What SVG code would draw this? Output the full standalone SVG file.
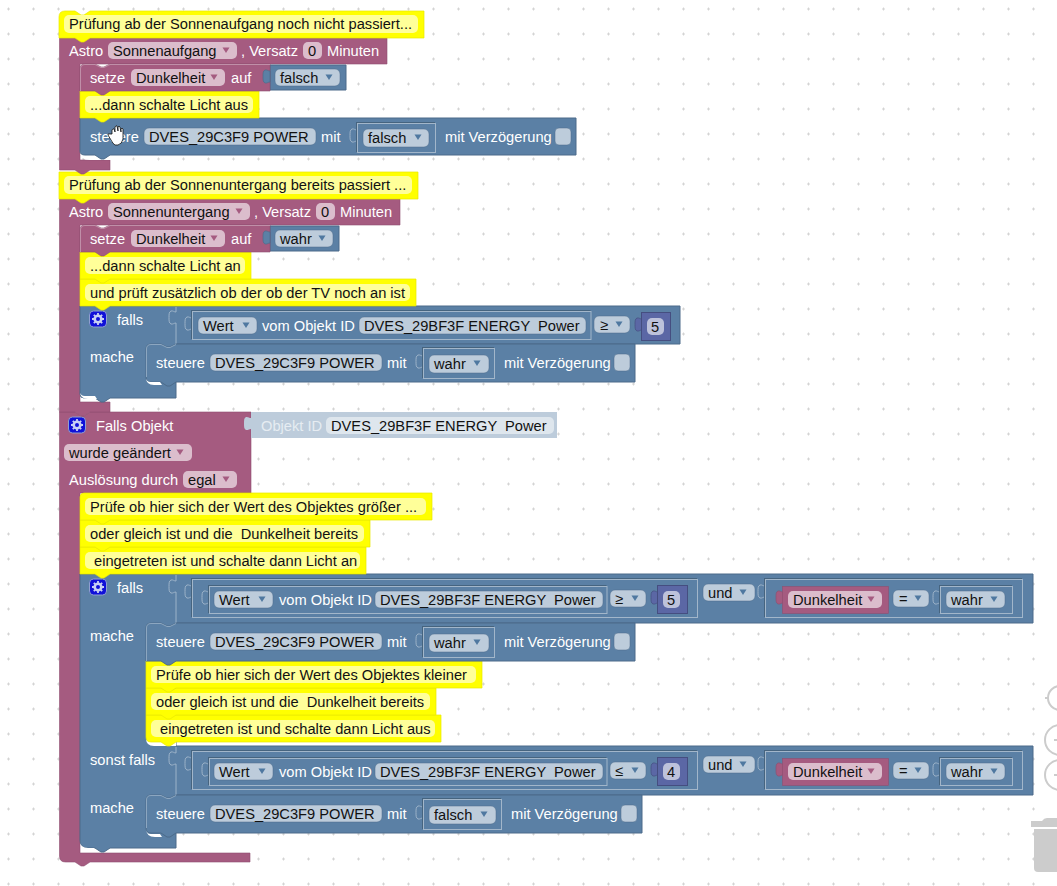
<svg xmlns="http://www.w3.org/2000/svg" width="1057" height="886" viewBox="0 0 1057 886">
<style>
text{font-family:"Liberation Sans",Arial,sans-serif;font-size:14.67px;white-space:pre}
.w{fill:#fff}.k{fill:#111}
.P{fill:#a55b80;stroke:#8f4f70;stroke-width:.6}
.B{fill:#5b80a5;stroke:#4c6b8a;stroke-width:1}
.Y{fill:#ff0;stroke:#e8e800;stroke-width:.7}
.yf{fill:#ffff99}
.pf{fill:#dbbdcc}
.bf{fill:#bdccdb;stroke:#4c6b8a;stroke-width:.5}
.N{fill:#5b67a5;stroke:#454e80;stroke-width:1}
.nf{fill:#bdc2db}
.o{fill:#5b80a5;stroke:#a2b6ca;stroke-width:1;filter:drop-shadow(-1px -1px 0 #46647f)}
.t{fill:none;stroke:#9db3c9;stroke-width:1}
.ad{fill:#4f78a0}.ap{fill:#a55b80}
.g{fill:none;stroke:#ccc;stroke-width:2}
.hb{fill:none;stroke:#8ca6c0;stroke-width:1}
.hp{fill:none;stroke:#c08fa8;stroke-width:1}
.tb{fill:#5b80a5;stroke:#4c6b8a;stroke-width:.7}
.tn{fill:#5b67a5;stroke:#454e80;stroke-width:.7}
.tp{fill:#a55b80;stroke:#8f4f70;stroke-width:.7}
</style>
<defs>
<pattern id="grid" width="25" height="25" patternUnits="userSpaceOnUse"><path d="M7 9h3M8.500 7.500v3" stroke="#d4d4d4" stroke-width="1"/></pattern>
<path id="dd" d="M-3.500 -2.500h7l-3.500 5.500z"/>
<path id="tab" d="M0 0c-2 0-3-1.500-5-1-2 1-2 3-2 6.500s0 5.500 2 6.500c2 .500 3-1 5-1"/>
<path id="pt" d="M0 0c-2 0-3-1.500-5-1-2 1-2 3-2 6.500s0 5.500 2 6.500c2 .500 3-1 5-1z"/>
<g id="gear"><rect x="-8.500" y="-8" width="17" height="16" rx="4" fill="#1010d8" stroke="#8f9fd0" stroke-width="1"/><circle r="3.300" fill="none" stroke="#c8d0f4" stroke-width="2.600"/><path d="M0-6v2M0 4v2M-6 0h2M4 0h2M-4.200-4.200l1.400 1.400M2.800 2.800l1.400 1.400M-4.200 4.200l1.400-1.400M2.800-2.800l1.400-1.400" stroke="#c8d0f4" stroke-width="1.800"/></g>
</defs>
<rect width="1057" height="886" fill="#fff"/>
<rect width="1057" height="886" fill="url(#grid)"/>

<g id="stack3">
<path class="P" d="M59.500 412H75l6 4h3l6-4H251V493H80V853H250V862H90l-6 4h-3l-6-4H65.500q-6 0-6-6Z"/>
<g id="objekt-id"><path d="M251 412H557V438H251Z" fill="#bdccdb"/><use href="#pt" fill="#bdccdb" x="251" y="418"/><text fill="#e6ecf2" x="261" y="431">Objekt ID</text><rect x="326" y="417" width="228" height="17" rx="5" fill="#dee6ed"/><text class="k" x="331" y="431">DVES_29BF3F ENERGY  Power</text></g>
<g id="trigger"><use href="#gear" x="77" y="425"/><text class="w" x="96" y="431">Falls Objekt</text><rect class="pf" x="64" y="444" width="128" height="17" rx="5"/><text class="k" x="69" y="458">wurde geändert</text><use href="#dd" class="ap" x="180" y="452"/><text class="w" x="69" y="485">Auslösung durch</text><rect class="pf" x="183" y="471" width="54" height="17" rx="5"/><text class="k" x="188" y="485">egal</text><use href="#dd" class="ap" x="226" y="479"/></g>

<g id="falls2"><path class="B" d="M80 574H1033V623H176V746H1033V795H176V837V848H110l-6 4h-3l-6-4H88q-8 0-8-8Z"/><path d="M80 841q0 10 10 10h6l-2-3h-6q-8 0-8-7Z" fill="#fff"/>
<use href="#gear" x="98" y="587"/><text class="w" x="117" y="593">falls</text><text class="w" x="90" y="641">mache</text><text class="w" x="90" y="765">sonst falls</text><text class="w" x="90" y="813">mache</text>
<path class="t" d="M176 575V581c-2 0-3-1.500-5-1-2 1-2 3-2 6.500s0 5.500 2 6.500c2 .500 3-1 5-1V623"/><path class="t" d="M176 747V753c-2 0-3-1.500-5-1-2 1-2 3-2 6.500s0 5.500 2 6.500c2 .500 3-1 5-1V795"/>
<g id="cond1"><use href="#tab" class="t" x="192" y="586"/><rect class="o" x="192.500" y="579.500" width="505" height="38"/><use href="#tab" class="t" x="209" y="592"/><rect class="o" x="209.500" y="586.500" width="397.500" height="27"/><rect class="bf" x="214" y="591" width="59" height="17" rx="5"/><text class="k" x="219" y="605">Wert</text><use href="#dd" class="ad" x="262" y="599"/><text class="w" x="279" y="605">vom Objekt ID</text><rect class="bf" x="375" y="591" width="228" height="17" rx="5"/><text class="k" x="380" y="605">DVES_29BF3F ENERGY  Power</text><rect class="bf" x="610" y="590" width="36" height="17" rx="5"/><text class="k" x="615" y="604">≥</text><use href="#dd" class="ad" x="635" y="598"/><use href="#pt" class="tn" x="658" y="592"/><rect class="N" x="657.500" y="585.500" width="30" height="28"/><rect class="nf" x="663" y="591" width="17" height="17" rx="5"/><text class="k" x="667" y="605">5</text>
<rect class="bf" x="703" y="584" width="52" height="17" rx="5"/><text class="k" x="708" y="598">und</text><use href="#dd" class="ad" x="743" y="592"/><use href="#tab" class="t" x="765" y="586"/><rect class="o" x="765.500" y="579.500" width="257" height="38"/><use href="#pt" class="tp" x="783" y="592"/><rect class="P" x="782.500" y="586.500" width="106" height="27"/><rect class="pf" x="788" y="591" width="94" height="17" rx="5"/><text class="k" x="793" y="605">Dunkelheit</text><use href="#dd" class="ap" x="871" y="599"/><rect class="bf" x="893" y="590" width="36" height="17" rx="5"/><text class="k" x="899" y="604">=</text><use href="#dd" class="ad" x="918" y="598"/><use href="#tab" class="t" x="940" y="592"/><rect class="o" x="940.500" y="586.500" width="72" height="27"/><rect class="bf" x="946" y="591" width="59" height="17" rx="5"/><text class="k" x="951" y="605">wahr</text><use href="#dd" class="ad" x="994" y="599"/></g>
<g id="cond2"><use href="#tab" class="t" x="192" y="758"/><rect class="o" x="192.500" y="751.500" width="505" height="38"/><use href="#tab" class="t" x="209" y="764"/><rect class="o" x="209.500" y="758.500" width="397.500" height="27"/><rect class="bf" x="214" y="763" width="59" height="17" rx="5"/><text class="k" x="219" y="777">Wert</text><use href="#dd" class="ad" x="262" y="771"/><text class="w" x="279" y="777">vom Objekt ID</text><rect class="bf" x="375" y="763" width="228" height="17" rx="5"/><text class="k" x="380" y="777">DVES_29BF3F ENERGY  Power</text><rect class="bf" x="610" y="762" width="36" height="17" rx="5"/><text class="k" x="615" y="776">≤</text><use href="#dd" class="ad" x="635" y="770"/><use href="#pt" class="tn" x="658" y="764"/><rect class="N" x="657.500" y="757.500" width="30" height="28"/><rect class="nf" x="663" y="763" width="17" height="17" rx="5"/><text class="k" x="667" y="777">4</text>
<rect class="bf" x="703" y="756" width="52" height="17" rx="5"/><text class="k" x="708" y="770">und</text><use href="#dd" class="ad" x="743" y="764"/><use href="#tab" class="t" x="765" y="758"/><rect class="o" x="765.500" y="751.500" width="257" height="38"/><use href="#pt" class="tp" x="783" y="764"/><rect class="P" x="782.500" y="758.500" width="106" height="27"/><rect class="pf" x="788" y="763" width="94" height="17" rx="5"/><text class="k" x="793" y="777">Dunkelheit</text><use href="#dd" class="ap" x="871" y="771"/><rect class="bf" x="893" y="762" width="36" height="17" rx="5"/><text class="k" x="899" y="776">=</text><use href="#dd" class="ad" x="918" y="770"/><use href="#tab" class="t" x="940" y="764"/><rect class="o" x="940.500" y="758.500" width="72" height="27"/><rect class="bf" x="946" y="763" width="59" height="17" rx="5"/><text class="k" x="951" y="777">wahr</text><use href="#dd" class="ad" x="994" y="771"/></g>
</g>

<g id="steuere4"><path class="B" d="M146 800q0-5 5-5h10l6 3h3l6-3H642V833H176l-6 4h-3l-6-4H151q-5 0-5-5Z"/><path class="hb" d="M146.500 828V800q0-4.500 4.500-4.500h10l6 3h3l6-3"/><path d="M146 828q0 9 9 9h7l-2-3h-9q-5 0-5-6Z" fill="#fff"/><text class="w" x="156" y="819">steuere</text><rect class="bf" x="210" y="805" width="172" height="17" rx="5"/><text class="k" x="215" y="819">DVES_29C3F9 POWER</text><text class="w" x="387" y="819">mit</text><use href="#tab" class="t" x="423" y="807"/><rect class="o" x="423.500" y="799.500" width="78" height="30"/><rect class="bf" x="429" y="806" width="67" height="18" rx="5"/><text class="k" x="434" y="820">falsch</text><use href="#dd" class="ad" x="484" y="814"/><text class="w" x="511" y="819">mit Verzögerung</text><rect class="bf" x="621" y="805" width="16" height="17" rx="4"/></g>
<path id="corner3" d="M146 735V738q0 8 8 8H176V740H146Z" fill="#fff"/>
<g id="comment3f"><path class="Y" d="M146 715H441V742H176l-6 4h-3l-6-4H151q-5 0-5-5Z"/><rect class="yf" x="151" y="720" width="284" height="17" rx="5"/><text class="k" x="160" y="734">eingetreten ist und schalte dann Licht aus</text></g>
<g id="comment3e"><path class="Y" d="M146 688H161l6 3h3l6-3H436V715H176l-6 4h-3l-6-4H146Z"/><rect class="yf" x="151" y="693" width="279" height="17" rx="5"/><text class="k" x="156" y="707">oder gleich ist und die  Dunkelheit bereits</text></g>
<g id="comment3d"><path class="Y" d="M146 661H482V688H176l-6 4h-3l-6-4H146Z"/><rect class="yf" x="151" y="666" width="325" height="17" rx="5"/><text class="k" x="156" y="680">Prüfe ob hier sich der Wert des Objektes kleiner</text></g>
<g id="steuere3"><path class="B" d="M146 628q0-5 5-5h10l6 3h3l6-3H635V661H176l-6 4h-3l-6-4H146Z"/><path class="hb" d="M146.500 661V628q0-4.500 4.500-4.500h10l6 3h3l6-3"/><text class="w" x="156" y="647">steuere</text><rect class="bf" x="210" y="633" width="172" height="17" rx="5"/><text class="k" x="215" y="647">DVES_29C3F9 POWER</text><text class="w" x="387" y="647">mit</text><use href="#tab" class="t" x="423" y="635"/><rect class="o" x="423.500" y="627.500" width="71" height="30"/><rect class="bf" x="429" y="634" width="60" height="18" rx="5"/><text class="k" x="434" y="648">wahr</text><use href="#dd" class="ad" x="477" y="642"/><text class="w" x="504" y="647">mit Verzögerung</text><rect class="bf" x="614" y="633" width="16" height="17" rx="4"/></g>
<g id="comment3c"><path class="Y" d="M80 547H95l6 3h3l6-3H366V574H110l-6 4h-3l-6-4H80Z"/><rect class="yf" x="85" y="552" width="275" height="17" rx="5"/><text class="k" x="94" y="566">eingetreten ist und schalte dann Licht an</text></g>
<g id="comment3b"><path class="Y" d="M80 520H95l6 3h3l6-3H370V547H110l-6 4h-3l-6-4H80Z"/><rect class="yf" x="85" y="525" width="279" height="17" rx="5"/><text class="k" x="90" y="539">oder gleich ist und die  Dunkelheit bereits</text></g>
<g id="comment3a"><path class="Y" d="M80 497q0-4 4-4H432V520H110l-6 4h-3l-6-4H80Z"/><rect class="yf" x="85" y="498" width="341" height="17" rx="5"/><text class="k" x="90" y="512">Prüfe ob hier sich der Wert des Objektes größer ...</text></g>
</g>

<g id="stack2">
<path class="P" d="M59.500 199H400V225H80V402H110V412H90l-6 4h-3l-6-4H59.500Z"/>
<g id="astro2"><text class="w" x="69" y="217">Astro</text><rect class="pf" x="108" y="203" width="142" height="17" rx="5"/><text class="k" x="113" y="217">Sonnenuntergang</text><use href="#dd" class="ap" x="239" y="211"/><text class="w" x="254" y="217">, Versatz</text><rect class="pf" x="316" y="203" width="19" height="17" rx="5"/><text class="k" x="321" y="217">0</text><text class="w" x="340" y="217">Minuten</text></g>
<g id="falls1"><path class="B" d="M80 306H680V344H176V398H110l-6 4h-3l-6-4H84q-4 0-4-4Z"/><path d="M80 391q0 8 8 8h9l-2-3h-10q-5 0-5-5Z" fill="#fff"/><use href="#gear" x="98" y="319"/><text class="w" x="117" y="325">falls</text><path class="t" d="M176 307V312c-2 0-3-1.500-5-1-2 1-2 3-2 6.500s0 5.500 2 6.500c2 .500 3-1 5-1V344"/><use href="#tab" class="t" x="192" y="318"/><rect class="o" x="192.500" y="311.500" width="398.500" height="28"/><rect class="bf" x="198" y="317" width="59" height="17" rx="5"/><text class="k" x="203" y="331">Wert</text><use href="#dd" class="ad" x="246" y="325"/><text class="w" x="262" y="331">vom Objekt ID</text><rect class="bf" x="359" y="317" width="227" height="17" rx="5"/><text class="k" x="364" y="331">DVES_29BF3F ENERGY  Power</text><rect class="bf" x="594" y="316" width="36" height="17" rx="5"/><text class="k" x="600" y="330">≥</text><use href="#dd" class="ad" x="619" y="324"/><use href="#pt" class="tn" x="642" y="319"/><rect class="N" x="641.500" y="312.500" width="29" height="28"/><rect class="nf" x="647" y="318" width="17" height="17" rx="5"/><text class="k" x="651" y="332">5</text><text class="w" x="90" y="362">mache</text></g>
<g id="steuere2"><path class="B" d="M146 349q0-5 5-5h10l6 3h3l6-3H635V382H176l-6 4h-3l-6-4H151q-5 0-5-5Z"/><path class="hb" d="M146.500 377V349q0-4.500 4.500-4.500h10l6 3h3l6-3"/><path d="M146 377q0 8 8 8h8l-2-3h-9q-5 0-5-5Z" fill="#fff"/><text class="w" x="156" y="368">steuere</text><rect class="bf" x="210" y="354" width="172" height="17" rx="5"/><text class="k" x="215" y="368">DVES_29C3F9 POWER</text><text class="w" x="387" y="368">mit</text><use href="#tab" class="t" x="423" y="356"/><rect class="o" x="423.500" y="348.500" width="71" height="30"/><rect class="bf" x="429" y="355" width="60" height="18" rx="5"/><text class="k" x="434" y="369">wahr</text><use href="#dd" class="ad" x="477" y="363"/><text class="w" x="504" y="368">mit Verzögerung</text><rect class="bf" x="614" y="354" width="16" height="17" rx="4"/></g>
<g id="comment2c"><path class="Y" d="M80 279H95l6 3h3l6-3H416V306H110l-6 4h-3l-6-4H80Z"/><rect class="yf" x="85" y="284" width="325" height="17" rx="5"/><text class="k" x="90" y="298">und prüft zusätzlich ob der ob der TV noch an ist</text></g>
<g id="comment2b"><path class="Y" d="M80 252H251V279H110l-6 4h-3l-6-4H80Z"/><rect class="yf" x="85" y="257" width="160" height="17" rx="5"/><text class="k" x="90" y="271">...dann schalte Licht an</text></g>
<g id="setze2"><path class="B" d="M270 226H339V251H270Z"/><path class="P" d="M80 230q0-5 5-5h10l6 3h3l6-3H270V252H110l-6 4h-3l-6-4H80Z"/><path class="hp" d="M80.500 252V230q0-4.500 4.500-4.500h10l6 3h3l6-3H270"/><use href="#pt" class="tb" x="270" y="232"/><text class="w" x="90" y="244">setze</text><rect class="pf" x="131" y="230" width="94" height="17" rx="5"/><text class="k" x="136" y="244">Dunkelheit</text><use href="#dd" class="ap" x="214" y="238"/><text class="w" x="231" y="244">auf</text><rect class="bf" x="275" y="230" width="58" height="17" rx="5"/><text class="k" x="280" y="244">wahr</text><use href="#dd" class="ad" x="322" y="238"/></g>
<g id="comment2"><path class="Y" d="M59 172H418V199H90l-6 4h-3l-6-4H59Z"/><rect class="yf" x="64" y="176" width="348" height="18" rx="5"/><text class="k" x="69" y="190">Prüfung ab der Sonnenuntergang bereits passiert ...</text></g>
</g>

<g id="stack1">
<path class="P" d="M59.500 38H387V64H80V160H110V170H90l-6 4h-3l-6-4H59.500Z"/>
<g id="astro1"><text class="w" x="69" y="56">Astro</text><rect class="pf" x="108" y="42" width="129" height="17" rx="5"/><text class="k" x="113" y="56">Sonnenaufgang</text><use href="#dd" class="ap" x="226" y="50"/><text class="w" x="241" y="56">, Versatz</text><rect class="pf" x="303" y="42" width="19" height="17" rx="5"/><text class="k" x="308" y="56">0</text><text class="w" x="327" y="56">Minuten</text></g>
<g id="steuere1"><path d="M80 150q0 10 10 10h20V150Z" fill="#fff"/><path class="B" d="M80 118H576V155H110l-6 4h-3l-6-4H85q-5 0-5-4Z"/><text class="w" x="90" y="142">steuere</text><rect class="bf" x="144" y="128" width="172" height="17" rx="5"/><text class="k" x="149" y="142">DVES_29C3F9 POWER</text><text class="w" x="321" y="142">mit</text><use href="#tab" class="t" x="357" y="130"/><rect class="o" x="357.500" y="123.500" width="78" height="29"/><rect class="bf" x="363" y="129" width="66" height="18" rx="5"/><text class="k" x="368" y="143">falsch</text><use href="#dd" class="ad" x="418" y="137"/><text class="w" x="445" y="142">mit Verzögerung</text><rect class="bf" x="555" y="128" width="16" height="17" rx="4"/></g>
<g id="comment2a"><path class="Y" d="M80 91H259V118H110l-6 4h-3l-6-4H80Z"/><rect class="yf" x="85" y="96" width="168" height="17" rx="5"/><text class="k" x="90" y="110">...dann schalte Licht aus</text></g>
<g id="setze1"><path class="B" d="M270 65H346V90H270Z"/><path class="P" d="M80 69q0-5 5-5h10l6 3h3l6-3H270V91H110l-6 4h-3l-6-4H80Z"/><path class="hp" d="M80.500 91V69q0-4.500 4.500-4.500h10l6 3h3l6-3H270"/><use href="#pt" class="tb" x="270" y="71"/><text class="w" x="90" y="83">setze</text><rect class="pf" x="131" y="69" width="94" height="17" rx="5"/><text class="k" x="136" y="83">Dunkelheit</text><use href="#dd" class="ap" x="214" y="77"/><text class="w" x="231" y="83">auf</text><rect class="bf" x="275" y="69" width="65" height="17" rx="5"/><text class="k" x="280" y="83">falsch</text><use href="#dd" class="ad" x="329" y="77"/></g>
<g id="comment1"><path class="Y" d="M59 17q0-6 6-6H75l6 4h3l6-4H424V38H90l-6 4h-3l-6-4H59Z"/><rect class="yf" x="64" y="15" width="354" height="18" rx="5"/><text class="k" x="69" y="29">Prüfung ab der Sonnenaufgang noch nicht passiert...</text></g>
</g>

<g id="controls">
<circle cx="1060" cy="698" r="12" class="g"/><path d="M1045 698h4" class="g"/>
<circle cx="1060" cy="740" r="15" class="g"/><path d="M1054 740h3" class="g"/>
<circle cx="1060" cy="775" r="15" class="g"/><path d="M1054 775h3" class="g"/>
<path d="M1031 827V821H1042q2-3 5-3H1057V827Z" fill="#ccc"/><path d="M1034 829H1057V872H1038q-4 0-4-4Z" fill="#ccc"/>
</g>
<path id="cursor" d="M112 134V130q1-2 2-1l1 3V127q1-2 2-1l1 5V127q1-2 2 0l1 5V129q1-2 2 0V139q-1 5-5 6h-3q-2-1-4-5l-3-5q0-2 2-1Z" fill="#fff" stroke="#111" stroke-width=".8"/>
</svg>
